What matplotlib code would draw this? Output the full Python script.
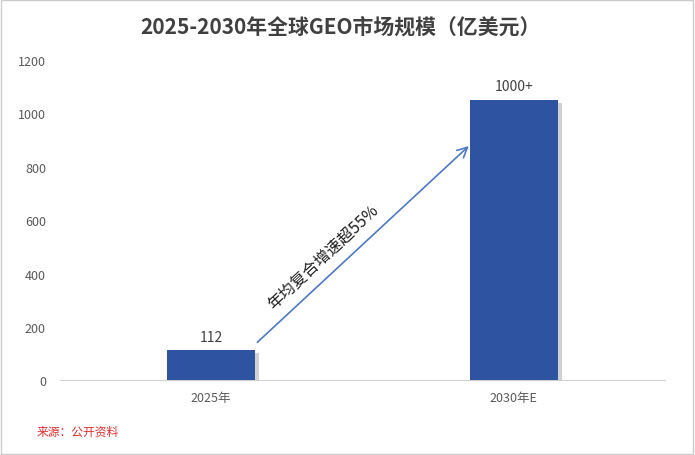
import matplotlib
matplotlib.use("Agg")
import matplotlib.pyplot as plt
import matplotlib.patheffects as pe
from matplotlib.patches import Rectangle

plt.rcParams['font.family'] = ['Noto Sans CJK SC', 'DejaVu Sans']

categories = ["2025年", "2030年E"]
values = [112, 1050]
value_labels = ["112", "1000+"]
yticks = [0, 200, 400, 600, 800, 1000, 1200]
title = "2025-2030年全球GEO市场规模（亿美元）"
arrow_text = "年均复合增速超55%"
source = "来源：公开资料"

fig = plt.figure(figsize=(6.95, 4.56), dpi=100)
ax = fig.add_axes([0.086, 0.164, 0.871, 0.702])

x = list(range(len(categories)))
bars = ax.bar(x, values, width=0.29, color="#2E54A1", zorder=3)
for b in bars:
    b.set_path_effects([pe.SimplePatchShadow(offset=(3, -2), shadow_rgbFace="#9a9a9a", alpha=0.45), pe.Normal()])

for xi, v, lab in zip(x, values, value_labels):
    ax.text(xi, v + 25, lab, ha="center", va="bottom", fontsize=10, color="#404040")

ax.set_xlim(-0.5, 1.5)
ax.set_ylim(0, 1200)
ax.set_yticks(yticks)
ax.set_xticks(x)
ax.set_xticklabels(categories)
ax.tick_params(axis="both", length=0, labelsize=9, colors="#595959")
ax.tick_params(axis="x", pad=8)
ax.tick_params(axis="y", pad=10)
for s in ["top", "right", "left"]:
    ax.spines[s].set_visible(False)
ax.spines["bottom"].set_color("#d0d0d0")

ax.annotate("", xy=(0.858, 885), xytext=(0.146, 135),
            arrowprops=dict(arrowstyle="->", color="#4F78C4", lw=1.2, mutation_scale=18))
ax.text(0.37, 465, arrow_text, rotation=43, ha="center", va="center",
        fontsize=11.5, color="#1f1f1f", rotation_mode="anchor")

fig.text(0.49, 0.94, title, ha="center", va="center", fontsize=15,
         fontweight="bold", color="#404040")
fig.text(0.052, 0.052, source, ha="left", va="center", fontsize=8.5, color="#E0302E")

fig.patches.append(Rectangle((0.002, 0.003), 0.995, 0.994, transform=fig.transFigure,
                             fill=False, edgecolor="#cccccc", lw=1))

fig.savefig("out.png", dpi=100)
